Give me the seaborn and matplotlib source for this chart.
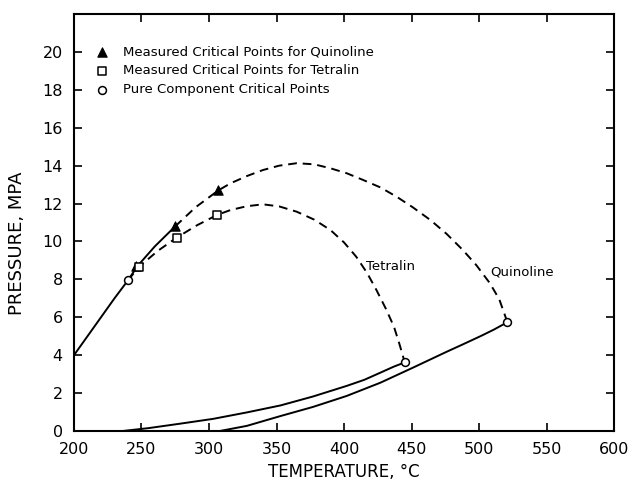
import matplotlib
matplotlib.use("Agg")
import matplotlib.pyplot as plt
import seaborn as sns

# ---- data ----
# light-component vapour pressure + start of quinoline critical locus (solid)
solid_T = [200, 210, 220, 230, 240, 247, 260, 275]
solid_P = [4.0, 5.0, 6.0, 7.0, 7.95, 8.7, 9.75, 10.8]

# quinoline critical locus (dashed)
quin_loc_T = [275, 290, 307, 316, 328, 340, 352, 365, 378, 390, 402, 414,
              427, 439, 451, 464, 476, 488, 498, 508, 515, 521]
quin_loc_P = [10.8, 11.8, 12.7, 13.07, 13.45, 13.77, 14.0, 14.13, 14.07, 13.86,
              13.6, 13.25, 12.85, 12.36, 11.8, 11.13, 10.4, 9.55, 8.75, 7.8,
              6.95, 5.74]

# tetralin critical locus (dashed)
tet_loc_T = [240, 248, 262, 276, 291, 306, 316, 328, 340, 352, 365, 378,
             390, 400, 409, 417, 424, 431, 437, 441, 445]
tet_loc_P = [7.95, 8.65, 9.5, 10.2, 10.85, 11.4, 11.66, 11.86, 11.96, 11.85,
             11.57, 11.15, 10.6, 9.95, 9.2, 8.35, 7.44, 6.45, 5.5, 4.6, 3.62]

# vapour pressure curves (solid)
tet_vp_T = [236, 255, 278, 303, 328, 353, 377, 402, 415, 427, 437, 445]
tet_vp_P = [0.0, 0.15, 0.38, 0.64, 0.98, 1.35, 1.82, 2.38, 2.7, 3.08, 3.4, 3.62]
quin_vp_T = [308, 328, 353, 377, 402, 427, 451, 476, 488, 501, 511, 521]
quin_vp_P = [0.0, 0.27, 0.79, 1.27, 1.85, 2.55, 3.34, 4.18, 4.57, 5.0, 5.35, 5.74]

# measured points
quin_meas_T = [246, 275, 307]
quin_meas_P = [8.7, 10.8, 12.7]
tet_meas_T = [248, 276, 306]
tet_meas_P = [8.65, 10.2, 11.4]
pure_T = [240, 445, 521]
pure_P = [7.95, 3.62, 5.74]

labels = ["Measured Critical Points for Quinoline",
          "Measured Critical Points for Tetralin",
          "Pure Component Critical Points"]
x_ticks = [200, 250, 300, 350, 400, 450, 500, 550, 600]
y_ticks = [0, 2, 4, 6, 8, 10, 12, 14, 16, 18, 20]

sns.set_style("ticks")
plt.rcParams["font.family"] = ["DejaVu Sans"]
plt.rcParams["text.color"] = "black"
plt.rcParams["axes.labelcolor"] = "black"
plt.rcParams["xtick.color"] = "black"
plt.rcParams["ytick.color"] = "black"

fig = plt.figure(figsize=(6.35, 4.84), dpi=100)
ax = fig.add_axes([0.1165, 0.1095, 0.8505, 0.8615])

lw = 1.4
def line(T, P, ls):
    sns.lineplot(x=T, y=P, ax=ax, sort=False, color="black", lw=lw,
                 linestyle=ls, estimator=None, zorder=2)

line(solid_T, solid_P, "-")
line(tet_vp_T, tet_vp_P, "-")
line(quin_vp_T, quin_vp_P, "-")
dash = (0, (4.5, 3.0))
line(quin_loc_T, quin_loc_P, dash)
line(tet_loc_T, tet_loc_P, dash)

sns.scatterplot(x=quin_meas_T, y=quin_meas_P, ax=ax, marker="^", s=45,
                color="black", edgecolor="black", linewidth=0.8, zorder=4,
                label=labels[0])
sns.scatterplot(x=tet_meas_T, y=tet_meas_P, ax=ax, marker="s", s=32,
                color="white", edgecolor="black", linewidth=1.1, zorder=4,
                label=labels[1])
sns.scatterplot(x=pure_T, y=pure_P, ax=ax, marker="o", s=32,
                color="white", edgecolor="black", linewidth=1.1, zorder=4,
                label=labels[2])

leg = ax.legend(loc="upper left", bbox_to_anchor=(0.04, 0.925), frameon=False,
                fontsize=9.5, borderpad=0, borderaxespad=0, handlelength=1.0,
                handletextpad=1.1, labelspacing=0.45)
for t in leg.get_texts():
    t.set_color("black")

ax.text(416, 8.7, "Tetralin", fontsize=9.5, va="center", ha="left")
ax.text(508, 8.37, "Quinoline", fontsize=9.5, va="center", ha="left")

ax.set_xlim(200, 600)
ax.set_ylim(0, 22)
ax.set_xticks(x_ticks)
ax.set_yticks(y_ticks)
ax.tick_params(direction="in", length=6, width=1.2, top=True, right=True,
               labelsize=11.5)
ax.tick_params(axis="x", pad=8)
ax.tick_params(axis="y", pad=8)
for s in ax.spines.values():
    s.set_visible(True)
    s.set_linewidth(1.5)
    s.set_color("black")

ax.set_xlabel("TEMPERATURE, °C", fontsize=12)
ax.set_ylabel("PRESSURE, MPA", fontsize=13)
ax.xaxis.set_label_coords(0.5, -0.076)
ax.yaxis.set_label_coords(-0.088, 0.45)

fig.savefig("out.png", dpi=100)
